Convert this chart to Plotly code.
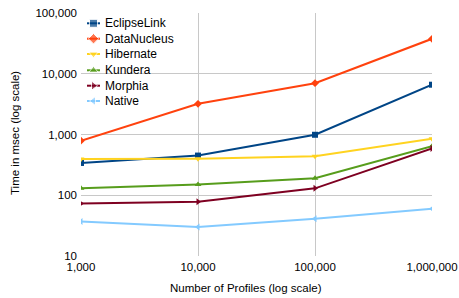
import plotly.graph_objects as go

profiles = [1000, 10000, 100000, 1000000]
profile_labels = ["1,000", "10,000", "100,000", "1,000,000"]
time_ticks = [10, 100, 1000, 10000, 100000]
time_labels = ["10", "100", "1,000", "10,000", "100,000"]
series_names = ["EclipseLink", "DataNucleus", "Hibernate", "Kundera", "Morphia", "Native"]
eclipselink = [340, 450, 990, 6600]
datanucleus = [790, 3200, 7000, 37600]
hibernate = [395, 400, 438, 850]
kundera = [130, 151, 190, 640]
morphia = [73, 78, 130, 590]
native = [37, 30, 41, 60]

colors = ["#004586", "#ff420e", "#ffd320", "#579d1c", "#7e0021", "#83caff"]
symbols = ["square", "diamond", "triangle-down", "triangle-up", "triangle-right", "triangle-left"]
values = [eclipselink, datanucleus, hibernate, kundera, morphia, native]

font = "Liberation Sans, Arial, sans-serif"
W, H = 459, 298
L, R, T, B = 81, 27, 13, 42
pw, ph = W - L - R, H - T - B

fig = go.Figure()
for name, vals, c, s in zip(series_names, values, colors, symbols):
    fig.add_trace(go.Scatter(x=profiles, y=vals, name=name, mode="lines+markers",
                             line=dict(color=c, width=2),
                             marker=dict(symbol=s, size=6, color=c),
                             showlegend=False))

# manual legend drawn on an overlay axis spanning the plot area (0..1)
row_y = [23.3, 38.7, 54, 70.3, 85.7, 101]
lx0, lx1, lxm, ltx = 87, 100, 93.5, 102.5
annotations = []
for i, (name, c, s) in enumerate(zip(series_names, colors, symbols)):
    yy = (H - B - row_y[i]) / ph
    fig.add_trace(go.Scatter(x=[(lx0 - L) / pw, (lxm - L) / pw, (lx1 - L) / pw], y=[yy, yy, yy],
                             xaxis="x2", yaxis="y2", mode="lines+markers",
                             line=dict(color=c, width=2),
                             marker=dict(symbol=s, size=[0, 8, 0], color=c),
                             showlegend=False, hoverinfo="skip"))
    annotations.append(dict(x=(ltx - L) / pw, y=yy, xref="paper", yref="paper",
                            text=name, showarrow=False, xanchor="left", yanchor="middle",
                            font=dict(size=12, color="#000")))

annotations.append(dict(x=(246 - L) / pw, y=(H - B - 288) / ph, xref="paper", yref="paper",
                        text="Number of Profiles (log scale)", showarrow=False,
                        xanchor="center", yanchor="middle", font=dict(size=11.5)))
annotations.append(dict(x=(15 - L) / pw, y=(H - B - 133) / ph, xref="paper", yref="paper",
                        text="Time in msec (log scale)", showarrow=False, textangle=-90,
                        xanchor="center", yanchor="middle", font=dict(size=11.5)))

fig.update_layout(
    width=W, height=H,
    margin=dict(l=L, r=R, t=T, b=B, autoexpand=False),
    paper_bgcolor="white", plot_bgcolor="white",
    font=dict(family=font, size=11, color="#000"),
    showlegend=False,
    annotations=annotations,
    xaxis=dict(type="log", range=[3, 6], tickvals=profiles, ticktext=profile_labels,
               showgrid=True, gridcolor="#c8c8c8", gridwidth=1, automargin=False,
               zeroline=False, showline=False, ticks="", ticklabelstandoff=2,
               tickfont=dict(size=11.5)),
    yaxis=dict(type="log", range=[1, 5], tickvals=time_ticks, ticktext=time_labels,
               showgrid=True, gridcolor="#c8c8c8", gridwidth=1, automargin=False,
               zeroline=False, showline=False, ticks="", ticklabelstandoff=3,
               tickfont=dict(size=11.5)),
    xaxis2=dict(overlaying="x", range=[0, 1], visible=False, fixedrange=True),
    yaxis2=dict(overlaying="y", range=[0, 1], visible=False, fixedrange=True),
)
fig.write_html("out.html", config={"displayModeBar": False},
               post_script="document.body.style.margin='0';")
